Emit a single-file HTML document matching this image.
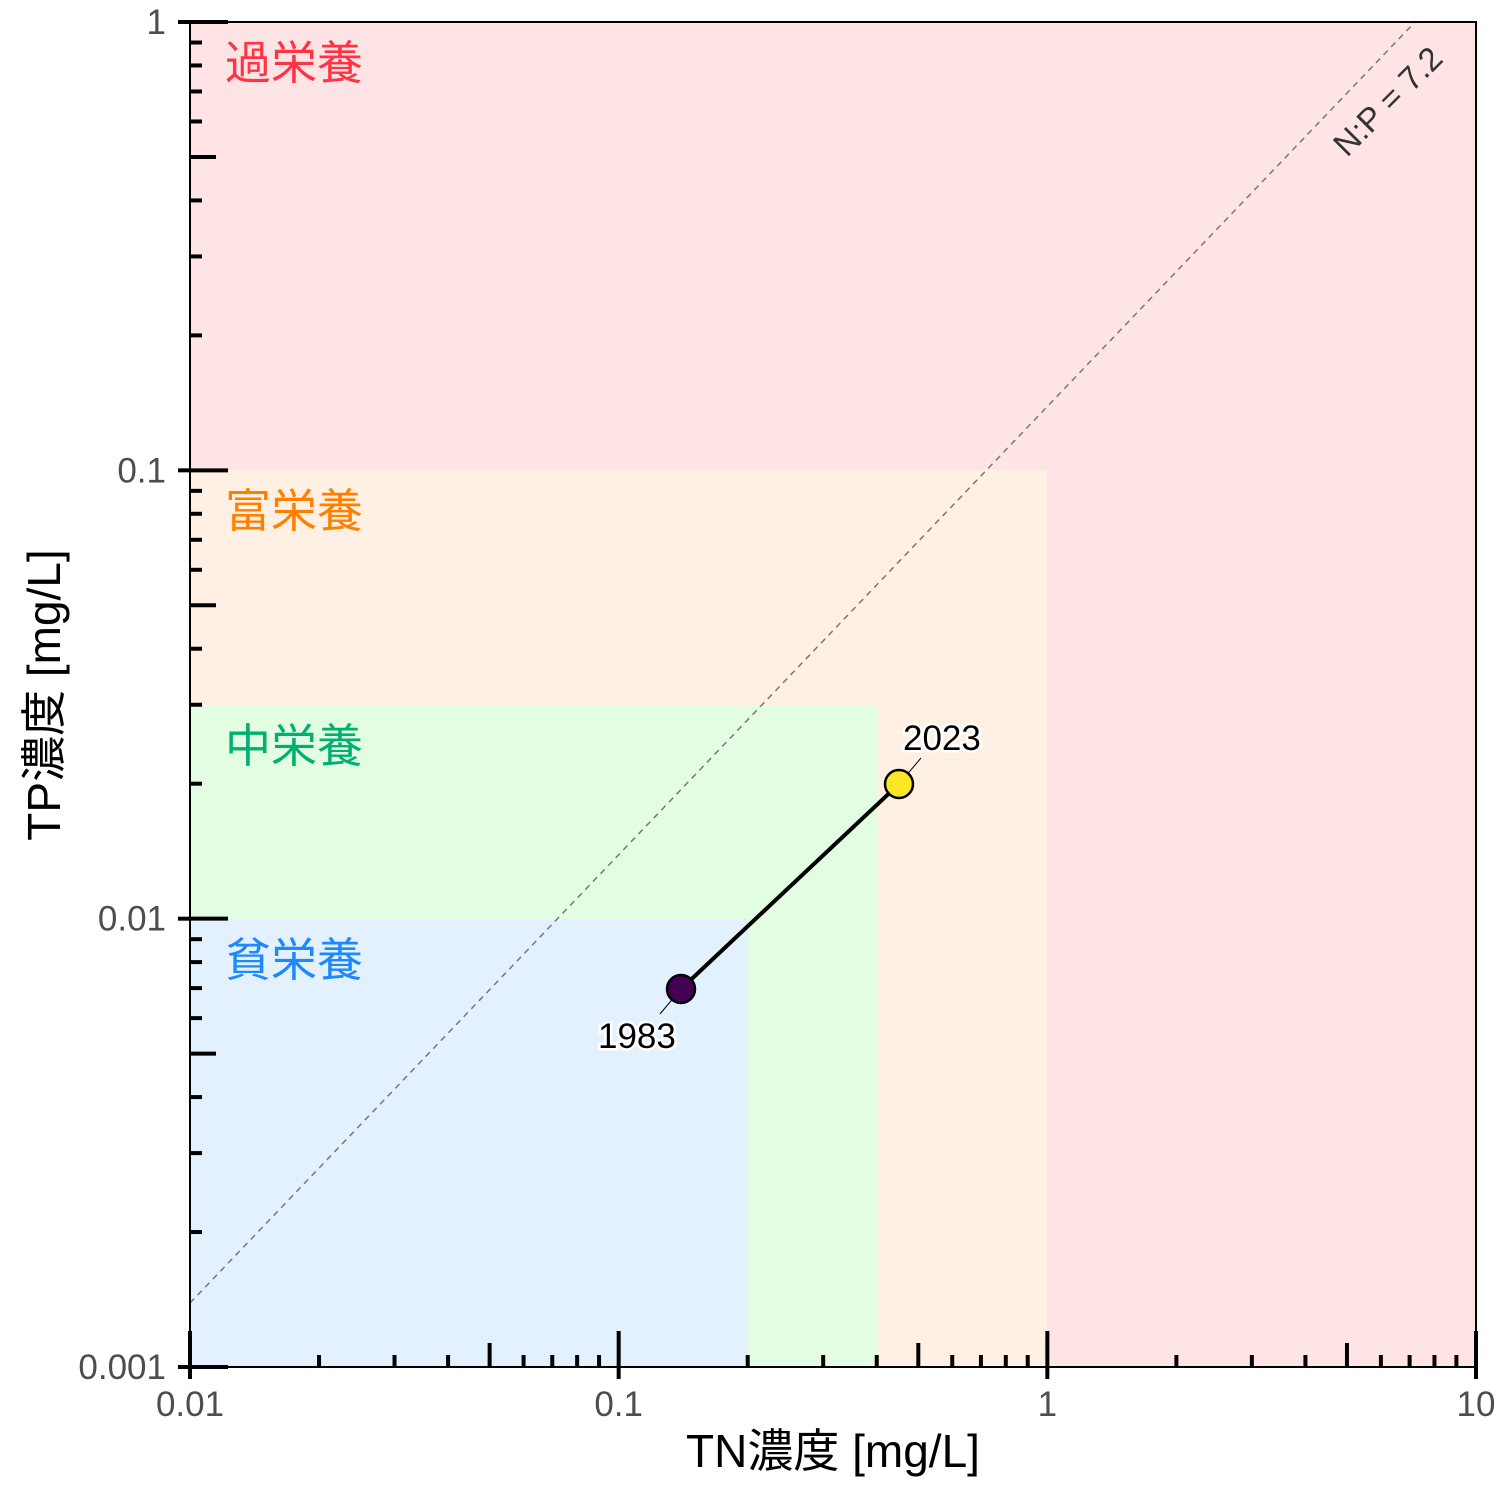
<!DOCTYPE html>
<html><head><meta charset="utf-8"><style>
html,body{margin:0;padding:0;background:#fff}
svg text{font-family:"Liberation Sans","Noto Sans CJK JP",sans-serif}
</style></head><body>
<svg width="1500" height="1500" xmlns="http://www.w3.org/2000/svg">
<rect x="190" y="22" width="1286" height="1345" fill="#ffe4e6"/>
<rect x="190" y="470" width="857" height="897" fill="#fff0e3"/>
<rect x="190" y="705" width="687" height="662" fill="#e3fde3"/>
<rect x="190" y="919" width="558" height="448" fill="#e3f1fe"/>
<line x1="190" y1="1303" x2="1415" y2="22" stroke="#777" stroke-width="1.5" stroke-dasharray="6,5"/>
<text x="0" y="0" font-size="33" fill="#333" transform="translate(1347,158) rotate(-45)">N:P = 7.2</text>
<text x="225" y="79" font-size="46" fill="#ff3344">過栄養</text>
<text x="225" y="527" font-size="46" fill="#ff8000">富栄養</text>
<text x="225" y="762" font-size="46" fill="#00b070">中栄養</text>
<text x="225" y="976" font-size="46" fill="#1e88ff">貧栄養</text>
<line x1="681" y1="989" x2="899" y2="784" stroke="#000" stroke-width="4"/>
<line x1="681" y1="989" x2="660" y2="1014" stroke="#000" stroke-width="1"/>
<line x1="899" y1="784" x2="921" y2="758" stroke="#000" stroke-width="1"/>
<circle cx="681" cy="989" r="14" fill="#440154" stroke="#000" stroke-width="2.5"/>
<circle cx="899" cy="784" r="14" fill="#fde725" stroke="#000" stroke-width="2.5"/>
<text x="598" y="1048" font-size="35" fill="#000" stroke="#fff" stroke-width="5" paint-order="stroke">1983</text>
<text x="903" y="750" font-size="35" fill="#000" stroke="#fff" stroke-width="5" paint-order="stroke">2023</text>
<rect x="190" y="22" width="1286" height="1345" fill="none" stroke="#000" stroke-width="2"/>
<g id="ticks" stroke="#000" stroke-width="4"></g>
<g id="labels" font-size="35" fill="#4d4d4d"></g>
<text x="833" y="1467" font-size="46" fill="#000" text-anchor="middle">TN濃度 [mg/L]</text>
<text x="0" y="0" font-size="46" fill="#000" text-anchor="middle" transform="translate(60,695) rotate(-90)">TP濃度 [mg/L]</text>
</svg>
<script>
var g=document.getElementById('ticks'),L=document.getElementById('labels'),ns="http://www.w3.org/2000/svg";
function ln(a,b,c,d){var l=document.createElementNS(ns,'line');l.setAttribute('x1',a);l.setAttribute('y1',b);l.setAttribute('x2',c);l.setAttribute('y2',d);g.appendChild(l);}
function tx(x,y,s,anc){var t=document.createElementNS(ns,'text');t.setAttribute('x',x);t.setAttribute('y',y);t.setAttribute('text-anchor',anc);t.textContent=s;L.appendChild(t);}
var xd=428.67,yd=448.33;
for(var d=0;d<3;d++)for(var k=1;k<=10;k++){if(k==10&&d<2)continue;var x=190+(d+Math.log10(k))*xd;var len=(k==1||k==10)?36:(k==5?24:12);ln(x,1367-len,x,1367);if(k==1||k==10)ln(x,1367,x,1379);}
var xl=['0.01','0.1','1','10'];for(var i=0;i<4;i++)tx(190+i*xd,1416,xl[i],'middle');
for(var d=0;d<3;d++)for(var k=1;k<=10;k++){if(k==10&&d<2)continue;var y=1367-(d+Math.log10(k))*yd;var len=(k==1||k==10)?38:(k==5?26:12);ln(190,y,190+len,y);if(k==1||k==10)ln(178,y,190,y);}
var yl=['0.001','0.01','0.1','1'];for(var i=0;i<4;i++)tx(166,1367-i*yd+12,yl[i],'end');
</script>
</body></html>
